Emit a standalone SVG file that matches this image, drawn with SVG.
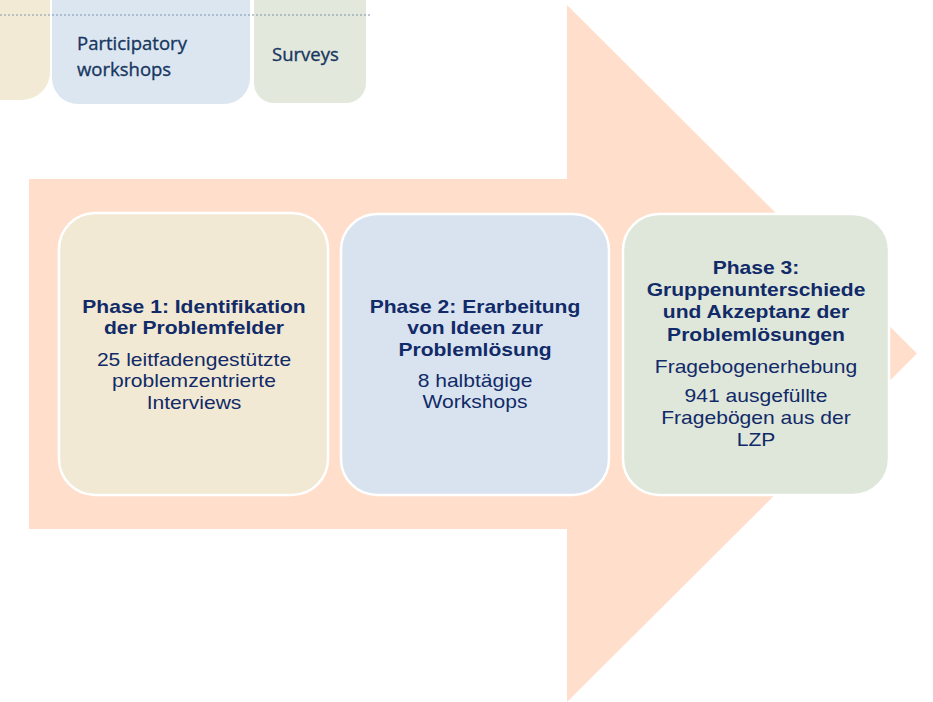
<svg xmlns="http://www.w3.org/2000/svg" width="933" height="702" viewBox="0 0 933 702">
<style>
.hdr{font-family:"Open Sans","Liberation Sans",sans-serif;font-size:18.5px;fill:#17365F;stroke:#17365F;stroke-width:0.35}
.box{stroke:#FFFFFF;stroke-width:2.5}
.t{font-family:"Liberation Sans",Arial,sans-serif;font-size:18px;font-weight:bold;fill:#112A68;text-anchor:middle}
.b{font-family:"Liberation Sans",Arial,sans-serif;font-size:18px;fill:#112A68;text-anchor:middle}
</style>
<defs>
<filter id="soft" x="-10%" y="-10%" width="120%" height="130%"><feGaussianBlur stdDeviation="0.6"/></filter>
</defs>
<rect width="933" height="702" fill="#FFFFFF"/>

<g id="header">
  <g filter="url(#soft)">
    <rect x="-40" y="-40" width="90" height="140" rx="28" fill="#F2EAD5"/>
    <rect x="52" y="-40" width="198" height="144" rx="26" fill="#DCE6F1"/>
    <rect x="254" y="-40" width="112" height="143" rx="20" fill="#E2E8DB"/>
  </g>
  <line x1="0" y1="15" x2="370" y2="15" stroke="#7D93AE" stroke-width="1.2" stroke-dasharray="2 2"/>
  <text class="hdr" x="77" y="50">Participatory</text>
  <text class="hdr" x="77" y="76">workshops</text>
  <text class="hdr" x="272" y="61">Surveys</text>
</g>

<g id="arrow">
  <path d="M29,179 H567 V5 L917,353.5 L567,702 V529 H29 Z" fill="#FFDFCC"/>
</g>

<g id="phase1">
  <rect class="box" x="59" y="213" width="269" height="282" rx="36" fill="#F1E9D3"/>
  <g transform="translate(194,0) scale(1.17,1)">
    <text class="t" x="0" y="313">Phase 1: Identifikation</text>
    <text class="t" x="0" y="334">der Problemfelder</text>
    <text class="b" x="0" y="366">25 leitfadengestützte</text>
    <text class="b" x="0" y="387">problemzentrierte</text>
    <text class="b" x="0" y="409">Interviews</text>
  </g>
</g>

<g id="phase2">
  <rect class="box" x="341" y="214" width="268" height="281" rx="36" fill="#D9E3EF"/>
  <g transform="translate(475,0) scale(1.17,1)">
    <text class="t" x="0" y="313">Phase 2: Erarbeitung</text>
    <text class="t" x="0" y="334">von Ideen zur</text>
    <text class="t" x="0" y="356">Problemlösung</text>
    <text class="b" x="0" y="387">8 halbtägige</text>
    <text class="b" x="0" y="408">Workshops</text>
  </g>
</g>

<g id="phase3">
  <rect class="box" x="623" y="214" width="266" height="281" rx="36" fill="#DFE6DA"/>
  <g transform="translate(756,0) scale(1.17,1)">
    <text class="t" x="0" y="274">Phase 3:</text>
    <text class="t" x="0" y="296">Gruppenunterschiede</text>
    <text class="t" x="0" y="318">und Akzeptanz der</text>
    <text class="t" x="0" y="341">Problemlösungen</text>
    <text class="b" x="0" y="373">Fragebogenerhebung</text>
    <text class="b" x="0" y="402">941 ausgefüllte</text>
    <text class="b" x="0" y="424">Fragebögen aus der</text>
    <text class="b" x="0" y="446">LZP</text>
  </g>
</g>

<g id="connectors"></g>
</svg>
